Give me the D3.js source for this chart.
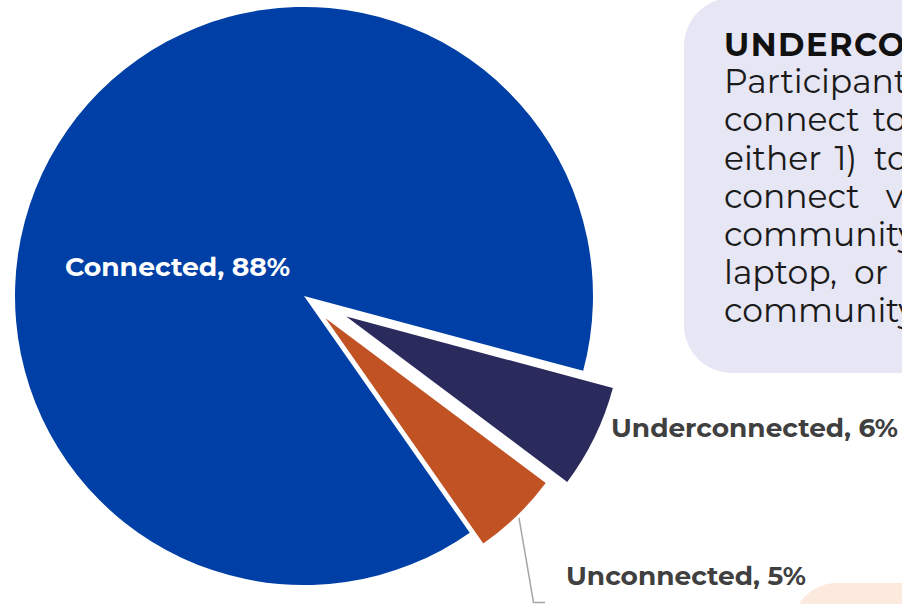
<!DOCTYPE html>
<html>
<head>
<meta charset="utf-8">
<script src="https://cdn.jsdelivr.net/npm/d3@7"></script>
<style>
  html, body { margin: 0; padding: 0; background: #ffffff; }
  svg { display: block; }
</style>
</head>
<body>
<svg id="chart" width="902" height="604"></svg>
<script>
// Internet connectivity of participants
const categories = ["Connected", "Underconnected", "Unconnected"];
const shares = [88, 6, 5];
const sliceColors = ["#0040A6", "#2B2A5C", "#C05224"];

// Definition panel text (runs of words per line)
const noteTitle = "UNDERCONNECTED:";
const noteLines = [
  ["Participants"],
  ["connect", "to"],
  ["either", "1)", "to"],
  ["connect", "via"],
  ["community"],
  ["laptop,", "or"],
  ["community"]
];

// ---- layout ----
const W = 902, H = 604;
const cx = 304, cy = 296;
const deg = Math.PI / 180;
const outerR = [289, 276, 275];      // radius per slice
const explode = [0, 47, 31];          // pull-out distance per slice

const svg = d3.select("#chart");

// background panels
svg.append("rect")
  .attr("x", 684).attr("y", -2)
  .attr("width", 300).attr("height", 375)
  .attr("rx", 48).attr("ry", 48)
  .attr("fill", "#E6E6F4");

svg.append("rect")
  .attr("x", 792).attr("y", 583)
  .attr("width", 200).attr("height", 100)
  .attr("rx", 45).attr("ry", 45)
  .attr("fill", "#FDEADF");

// pie
const pie = d3.pie().sort(null).value(d => d)
  .startAngle(145 * deg).endAngle(505 * deg);
const arcs = pie(shares);

const g = svg.append("g").attr("transform", `translate(${cx},${cy})`);

function offset(d, i) {
  const mid = (d.startAngle + d.endAngle) / 2;
  return [Math.sin(mid) * explode[i], -Math.cos(mid) * explode[i]];
}

g.selectAll("path.slice")
  .data(arcs)
  .join("path")
  .attr("class", "slice")
  .attr("transform", (d, i) => { const o = offset(d, i); return `translate(${o[0]},${o[1]})`; })
  .attr("d", (d, i) => d3.arc().innerRadius(0).outerRadius(outerR[i])(d))
  .attr("fill", (d, i) => sliceColors[i]);

// leader line for the smallest slice
{
  const i = 2, d = arcs[i];
  const mid = (d.startAngle + d.endAngle) / 2;
  const o = offset(d, i);
  const r0 = outerR[i] + 3;
  const x0 = cx + o[0] + Math.sin(mid) * r0;
  const y0 = cy + o[1] - Math.cos(mid) * r0;
  svg.append("polyline")
    .attr("points", `${x0},${y0} 533.5,602.5 545,602.5`)
    .attr("fill", "none")
    .attr("stroke", "#A6A6A6")
    .attr("stroke-width", 1.5);
}

// slice labels
const labelFont = "Montserrat, 'DejaVu Sans', sans-serif";
const labelSpec = [
  { x: 65, y: 276, w: 225, fill: "#ffffff", size: 26 },
  { x: 611, y: 436.5, w: 287, fill: "#404040", size: 25 },
  { x: 566, y: 585, w: 240, fill: "#404040", size: 25 }
];
svg.selectAll("text.slice-label")
  .data(arcs)
  .join("text")
  .attr("class", "slice-label")
  .attr("x", (d, i) => labelSpec[i].x)
  .attr("y", (d, i) => labelSpec[i].y)
  .attr("textLength", (d, i) => labelSpec[i].w)
  .attr("lengthAdjust", "spacingAndGlyphs")
  .attr("font-family", labelFont)
  .attr("font-weight", 700)
  .attr("font-size", (d, i) => labelSpec[i].size)
  .attr("fill", (d, i) => labelSpec[i].fill)
  .text((d, i) => `${categories[i]}, ${d.data}%`);

// definition panel text (justified lines: extra gap after each word)
const noteX = 724;
const titleY = 56;
const lineYs = [93, 131, 170, 208, 246, 284, 322];
const wordGaps = [
  [0],
  [13],
  [13, 17],
  [26],
  [0],
  [17],
  [0]
];

svg.append("text")
  .attr("x", noteX).attr("y", titleY)
  .attr("font-family", labelFont)
  .attr("font-weight", 700)
  .attr("font-size", 32)
  .attr("letter-spacing", 1.5)
  .attr("fill", "#111111")
  .text(noteTitle);

const body = svg.append("g")
  .attr("font-family", labelFont)
  .attr("font-size", 33)
  .attr("fill", "#1A1A1A");

noteLines.forEach((words, li) => {
  let x = noteX;
  words.forEach((w, wi) => {
    const t = body.append("text").attr("x", x).attr("y", lineYs[li]).text(w);
    x += t.node().getComputedTextLength() + wordGaps[li][wi];
  });
});
</script>
</body>
</html>
